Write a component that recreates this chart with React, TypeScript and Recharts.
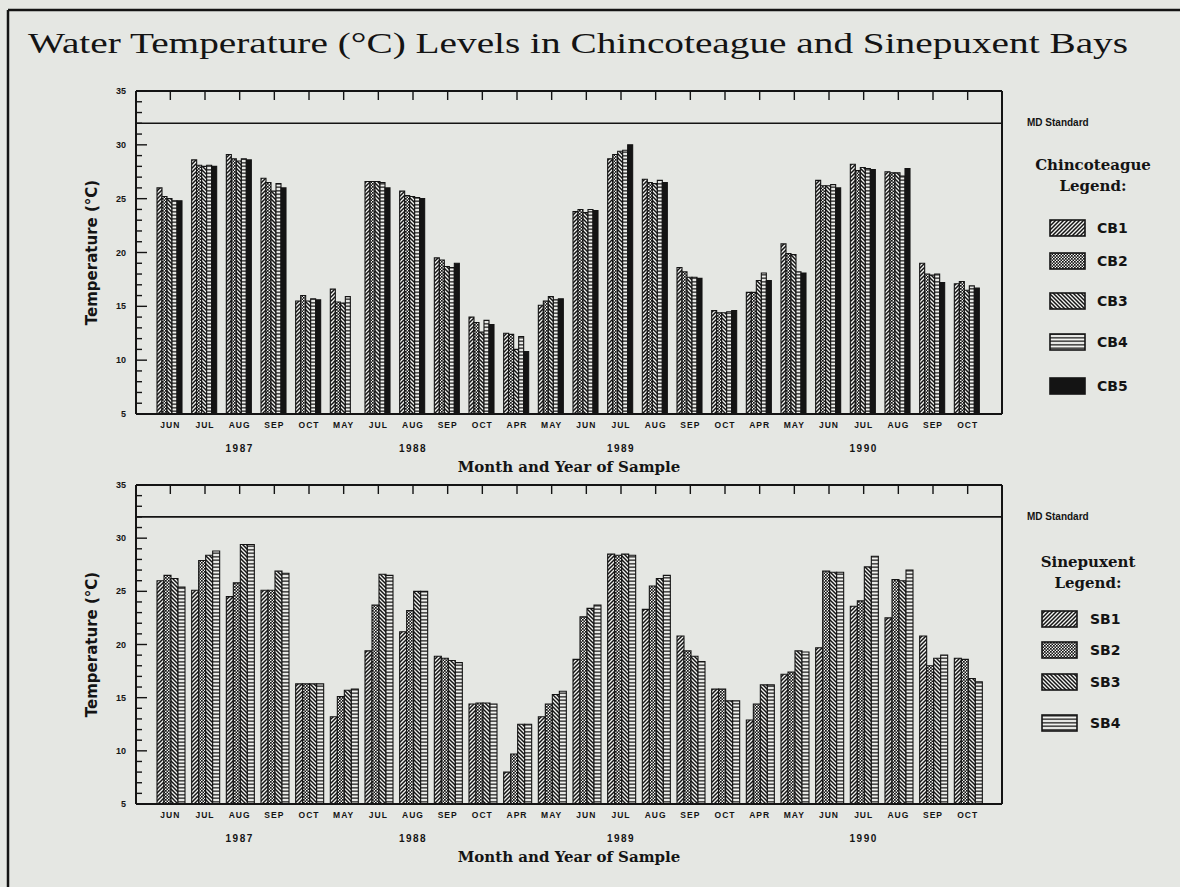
import { Bar, BarChart, ReferenceLine, XAxis, YAxis } from 'recharts';

const months = ['JUN', 'JUL', 'AUG', 'SEP', 'OCT', 'MAY', 'JUL', 'AUG', 'SEP', 'OCT', 'APR', 'MAY', 'JUN', 'JUL', 'AUG', 'SEP', 'OCT', 'APR', 'MAY', 'JUN', 'JUL', 'AUG', 'SEP', 'OCT'];
const yearLabels = ['', '', '1987', '', '', '', '', '1988', '', '', '', '', '', '1989', '', '', '', '', '', '', '1990', '', '', ''];

const cb1 = [26.0, 28.6, 29.1, 26.9, 15.5, 16.6, 26.6, 25.7, 19.5, 14.0, 12.5, 15.1, 23.8, 28.7, 26.8, 18.6, 14.6, 16.3, 20.8, 26.7, 28.2, 27.5, 19.0, 17.1];
const cb2 = [25.2, 28.1, 28.7, 26.5, 16.0, 15.4, 26.6, 25.3, 19.3, 13.5, 12.4, 15.5, 24.0, 29.1, 26.5, 18.2, 14.4, 16.3, 19.9, 26.2, 27.6, 27.4, 18.0, 17.3];
const cb3 = [25.0, 28.0, 28.5, 25.7, 15.5, 15.3, 26.6, 25.2, 18.7, 12.6, 11.0, 15.9, 23.7, 29.4, 26.4, 17.7, 14.4, 17.4, 19.8, 26.2, 27.9, 27.4, 17.9, 16.5];
const cb4 = [24.8, 28.1, 28.7, 26.4, 15.7, 15.9, 26.5, 25.1, 18.6, 13.7, 12.2, 15.6, 24.0, 29.5, 26.7, 17.7, 14.5, 18.1, 18.2, 26.3, 27.8, 27.1, 18.0, 16.9];
const cb5 = [24.8, 28.0, 28.6, 26.0, 15.6, null, 26.0, 25.0, 19.0, 13.3, 10.8, 15.7, 23.9, 30.0, 26.5, 17.6, 14.6, 17.4, 18.1, 26.0, 27.7, 27.8, 17.2, 16.7];

const sb1 = [26.0, 25.1, 24.5, 25.1, 16.3, 13.2, 19.4, 21.2, 18.9, 14.4, 8.0, 13.2, 18.6, 28.5, 23.3, 20.8, 15.8, 12.9, 17.2, 19.7, 23.6, 22.5, 20.8, 18.7];
const sb2 = [26.5, 27.9, 25.8, 25.1, 16.3, 15.1, 23.7, 23.2, 18.7, 14.5, 9.7, 14.4, 22.6, 28.4, 25.5, 19.4, 15.8, 14.4, 17.4, 26.9, 24.1, 26.1, 18.0, 18.6];
const sb3 = [26.2, 28.4, 29.4, 26.9, 16.3, 15.7, 26.6, 25.0, 18.5, 14.5, 12.5, 15.3, 23.4, 28.5, 26.2, 18.9, 14.7, 16.2, 19.4, 26.8, 27.3, 26.0, 18.7, 16.8];
const sb4 = [25.4, 28.8, 29.4, 26.7, 16.3, 15.8, 26.5, 25.0, 18.3, 14.4, 12.5, 15.6, 23.7, 28.4, 26.5, 18.4, 14.7, 16.2, 19.3, 26.8, 28.3, 27.0, 19.0, 16.5];

const yTicks = [5, 6, 7, 8, 9, 10, 11, 12, 13, 14, 15, 16, 17, 18, 19, 20, 21, 22, 23, 24, 25, 26, 27, 28, 29, 30, 31, 32, 33, 34, 35];
const mdStandard = 32;

const cbNames = ['CB1', 'CB2', 'CB3', 'CB4', 'CB5'];
const sbNames = ['SB1', 'SB2', 'SB3', 'SB4'];

const chincoData = months.map((m, i) => ({ month: m, CB1: cb1[i], CB2: cb2[i], CB3: cb3[i], CB4: cb4[i], CB5: cb5[i] }));
const sinepData = months.map((m, i) => ({ month: m, SB1: sb1[i], SB2: sb2[i], SB3: sb3[i], SB4: sb4[i] }));

const INK = '#141414';
const BG = '#e5e7e3';
const PAPER = '#f2f3f0';
const SANS = '"Liberation Sans", Arial, sans-serif';
const SERIF = '"DejaVu Serif", serif';

// hatch fills, one per station
const patterns = (prefix: string) => (
  <defs>
    <pattern id={`${prefix}-p1`} width="4" height="4" patternUnits="userSpaceOnUse">
      <rect width="4" height="4" fill={PAPER} />
      <path d="M-1,1 l2,-2 M0,4 l4,-4 M3,5 l2,-2" stroke={INK} strokeWidth="1.5" />
    </pattern>
    <pattern id={`${prefix}-p2`} width="3" height="3" patternUnits="userSpaceOnUse">
      <rect width="3" height="3" fill={PAPER} />
      <rect width="1.7" height="1.7" fill={INK} />
      <rect x="1.5" y="1.5" width="1.7" height="1.7" fill={INK} />
    </pattern>
    <pattern id={`${prefix}-p3`} width="4" height="4" patternUnits="userSpaceOnUse">
      <rect width="4" height="4" fill={PAPER} />
      <path d="M-1,3 l2,2 M0,0 l4,4 M3,-1 l2,2" stroke={INK} strokeWidth="1.5" />
    </pattern>
    <pattern id={`${prefix}-p4`} width="4" height="3.5" patternUnits="userSpaceOnUse">
      <rect width="4" height="3.5" fill={PAPER} />
      <line x1="0" y1="1.75" x2="4" y2="1.75" stroke={INK} strokeWidth="1.3" />
    </pattern>
    <pattern id={`${prefix}-p5`} width="4" height="4" patternUnits="userSpaceOnUse">
      <rect width="4" height="4" fill={INK} />
    </pattern>
  </defs>
);

const LeftTick = ({ x, y, payload }: any) => {
  const major = payload.value % 5 === 0;
  return (
    <g>
      <line x1={x} x2={x + (major ? 11 : 6)} y1={y} y2={y} stroke={INK} strokeWidth={1.4} />
      {major && (
        <text x={x - 10} y={y + 3} textAnchor="end" fontSize={9} fontWeight={700} fontFamily={SANS} fill={INK}>
          {payload.value}
        </text>
      )}
    </g>
  );
};

const RightTick = ({ x, y, payload }: any) => {
  const major = payload.value % 5 === 0;
  return <line x1={x} x2={x - (major ? 11 : 6)} y1={y} y2={y} stroke={INK} strokeWidth={1.4} />;
};

const TopTick = ({ x, y }: any) => <line x1={x} x2={x} y1={y} y2={y + 9} stroke={INK} strokeWidth={1.4} />;

const MonthTick = ({ x, y, payload, index }: any) => (
  <g>
    <text x={x} y={y + 14} textAnchor="middle" fontSize={8.5} fontWeight={700} letterSpacing={1} fontFamily={SANS} fill={INK}>
      {payload.value}
    </text>
    {yearLabels[index] && (
      <text x={x} y={y + 38} textAnchor="middle" fontSize={10} fontWeight={700} letterSpacing={1.5} fontFamily={SANS} fill={INK}>
        {yearLabels[index]}
      </text>
    )}
  </g>
);

const mdLabel = (props: any) => {
  const { viewBox } = props;
  return (
    <text x={viewBox.x + viewBox.width + 25} y={viewBox.y + 3} fontSize={10} fontWeight={700} fontFamily={SANS} fill={INK}>
      MD Standard
    </text>
  );
};

type PanelProps = {
  data: any[];
  names: string[];
  prefix: string;
  height: number;
  top: number;
};

const Panel = ({ data, names, prefix, height, top }: PanelProps) => (
  <div style={{ position: 'absolute', left: 0, top }}>
    <BarChart
      width={1180}
      height={height}
      data={data}
      margin={{ top: 90, left: 86, right: 168, bottom: 6 }}
      barCategoryGap={4}
      barGap={0}
    >
      {patterns(prefix)}
      <XAxis
        dataKey="month"
        interval={0}
        padding={{ left: 17, right: 17 }}
        height={60}
        tickSize={0}
        tickMargin={0}
        tickLine={false}
        axisLine={{ stroke: INK, strokeWidth: 2 }}
        tick={<MonthTick />}
        label={{ value: 'Month and Year of Sample', position: 'insideBottom', offset: 2, fontSize: 15, fontWeight: 700, fontFamily: SERIF, fill: INK }}
      />
      <XAxis
        xAxisId="top"
        orientation="top"
        dataKey="month"
        interval={0}
        padding={{ left: 17, right: 17 }}
        height={1}
        tickSize={0}
        tickMargin={0}
        tickLine={false}
        axisLine={{ stroke: INK, strokeWidth: 2 }}
        tick={<TopTick />}
      />
      <YAxis
        type="number"
        domain={[5, 35]}
        ticks={yTicks}
        interval={0}
        width={50}
        tickSize={0}
        tickMargin={0}
        tickLine={false}
        axisLine={{ stroke: INK, strokeWidth: 2 }}
        tick={<LeftTick />}
        label={{ value: 'Temperature (°C)', angle: -90, position: 'insideLeft', offset: 6, fontSize: 15, fontWeight: 600, fontFamily: '"DejaVu Sans", sans-serif', fill: INK, style: { textAnchor: 'middle' } }}
      />
      <YAxis
        yAxisId="r"
        orientation="right"
        type="number"
        domain={[5, 35]}
        ticks={yTicks}
        interval={0}
        width={10}
        tickSize={0}
        tickMargin={0}
        tickLine={false}
        axisLine={{ stroke: INK, strokeWidth: 2 }}
        tick={<RightTick />}
      />
      <ReferenceLine y={mdStandard} stroke={INK} strokeWidth={1.6} label={mdLabel} />
      {names.map((n, i) => (
        <Bar key={n} dataKey={n} fill={`url(#${prefix}-p${i + 1})`} stroke={INK} strokeWidth={1.1} isAnimationActive={false} />
      ))}
    </BarChart>
  </div>
);

const LegendBlock = ({ names, title, cx, y0, steps, boxX, textX }: any) => (
  <g>
    <text x={cx} y={y0} textAnchor="middle" fontSize={15} fontWeight={600} fontFamily={SERIF} fill={INK}>
      {title}
    </text>
    <text x={cx} y={y0 + 21} textAnchor="middle" fontSize={15} fontWeight={600} fontFamily={SERIF} fill={INK}>
      Legend:
    </text>
    {names.map((n: string, i: number) => (
      <g key={n}>
        <rect x={boxX} y={steps[i] - 8} width={35} height={16} fill={`url(#lg-p${i + 1})`} stroke={INK} strokeWidth={1.6} />
        <text x={textX} y={steps[i] + 5} fontSize={14} fontWeight={700} fontFamily='"DejaVu Sans", sans-serif' fill={INK}>
          {n}
        </text>
      </g>
    ))}
  </g>
);

export default function App() {
  return (
    <div style={{ position: 'absolute', left: 0, top: 0, width: 1180, height: 887, background: BG, overflow: 'hidden' }}>
      <svg width={1180} height={887} style={{ position: 'absolute', left: 0, top: 0 }}>
        {patterns('lg')}
        <line x1={8} y1={10} x2={1180} y2={10} stroke={INK} strokeWidth={2.5} />
        <line x1={8} y1={10} x2={8} y2={887} stroke={INK} strokeWidth={2.5} />
        <text x={28} y={53} fontSize={30} fontFamily='"Liberation Serif", serif' fill={INK} textLength={1100} lengthAdjust="spacingAndGlyphs">
          Water Temperature (°C) Levels in Chincoteague and Sinepuxent Bays
        </text>
        <LegendBlock names={cbNames} title="Chincoteague" cx={1093} y0={170} steps={[228, 261, 301, 342, 386]} boxX={1050} textX={1097} />
        <LegendBlock names={sbNames} title="Sinepuxent" cx={1088} y0={567} steps={[619, 650, 682, 723]} boxX={1042} textX={1090} />
      </svg>
      <Panel data={chincoData} names={cbNames} prefix="cb" height={480} top={0} />
      <Panel data={sinepData} names={sbNames} prefix="sb" height={476} top={394} />
    </div>
  );
}
